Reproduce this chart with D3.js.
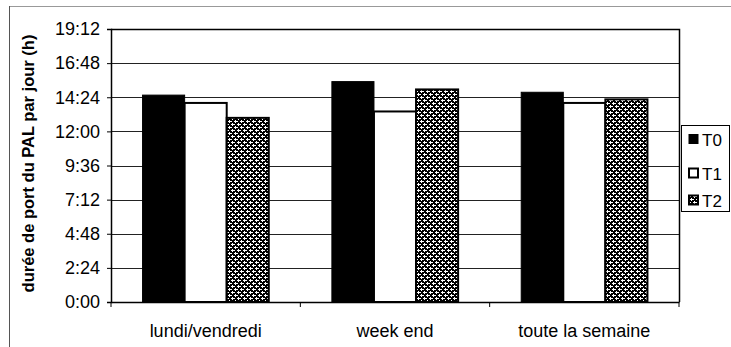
<!DOCTYPE html>
<html><head><meta charset="utf-8">
<script src="https://cdn.jsdelivr.net/npm/d3@7"></script>
<style>body{margin:0;background:#fff}svg{display:block;font-family:Arial,"Liberation Sans",sans-serif}</style>
</head><body><svg id="c" width="731" height="347"></svg>
<script>
const categories = ["lundi/vendredi", "week end", "toute la semaine"];
const seriesNames = ["T0", "T1", "T2"];
// durations in hours
const T0 = [14.55, 15.5, 14.75];
const T1 = [14.0, 13.4, 14.0];
const T2 = [12.95, 14.95, 14.25];
const yTicks = [0, 2.4, 4.8, 7.2, 9.6, 12, 14.4, 16.8, 19.2];
const yTitle = "durée de port du PAL par jour (h)";

const series = [T0, T1, T2];
const svg = d3.select("#c");
const m = {l: 111, t: 29, r: 679, b: 302};
const FONT = "Arial, 'Liberation Sans', sans-serif";

const defs = svg.append("defs");
const pat = defs.append("pattern").attr("id", "hatch").attr("patternUnits", "userSpaceOnUse").attr("width", 6).attr("height", 6);
pat.append("rect").attr("width", 6).attr("height", 6).attr("fill", "#000");
pat.append("path").attr("d", "M1,0h1v1h-1zM0,1h3v1h-3zM1,2h1v1h-1zM4,3h1v1h-1zM3,4h3v1h-3zM4,5h1v1h-1z").attr("fill", "#fff");
pat.append("path").attr("d", "M3,1h1v1h-1zM0,4h1v1h-1z").attr("fill", "#fff");

const fills = ["#000", "#fff", "url(#hatch)"];

const x0 = d3.scaleBand().domain(categories).range([m.l, m.r]).paddingInner(0).paddingOuter(0);
const x1 = d3.scaleBand().domain(seriesNames).range([0, x0.bandwidth()]).paddingOuter(0.75).paddingInner(0);
const y = d3.scaleLinear().domain([0, 19.2]).range([m.b, m.t]);

const fmt = v => { const tot = Math.round(v * 60); return Math.floor(tot / 60) + ":" + String(tot % 60).padStart(2, "0"); };

// outer frame lines
svg.append("line").attr("x1", 9).attr("x2", 731).attr("y1", 6.5).attr("y2", 6.5).attr("stroke", "#999").attr("stroke-width", 1);
svg.append("line").attr("x1", 9.5).attr("x2", 9.5).attr("y1", 6).attr("y2", 347).attr("stroke", "#555").attr("stroke-width", 1);

// gridlines
svg.append("g").selectAll("line").data(yTicks.slice(1)).join("line")
  .attr("x1", m.l).attr("x2", m.r)
  .attr("y1", d => Math.round(y(d)) + 0.5).attr("y2", d => Math.round(y(d)) + 0.5)
  .attr("stroke", "#222").attr("stroke-width", 1);

// bars
const g = svg.append("g");
categories.forEach((c, ci) => {
  seriesNames.forEach((s, si) => {
    const v = series[si][ci];
    g.append("rect")
      .attr("x", x0(c) + x1(s))
      .attr("y", y(v))
      .attr("width", x1.bandwidth())
      .attr("height", y(0) - y(v))
      .attr("fill", fills[si])
      .attr("stroke", "#000").attr("stroke-width", si === 0 ? 1 : 2);
  });
});

// plot frame top/right
svg.append("path").attr("d", `M${m.l},${m.t + 0.5}H${m.r + 0.5}V${m.b}`).attr("fill", "none").attr("stroke", "#000").attr("stroke-width", 1.5);

// y axis
const ya = svg.append("g").attr("transform", `translate(${m.l},0)`)
  .call(d3.axisLeft(y).tickValues(yTicks).tickFormat(fmt).tickSize(4).tickPadding(7));
ya.select(".domain").attr("stroke", "#000").attr("stroke-width", 1.5);
ya.selectAll(".tick line").attr("stroke", "#000");
ya.selectAll("text").attr("font-size", 18).attr("fill", "#000").attr("font-family", FONT);

// x axis
const xa = svg.append("g").attr("transform", `translate(0,${m.b})`)
  .call(d3.axisBottom(x0).tickValues([]).tickSizeOuter(0));
xa.select(".domain").attr("stroke", "#000").attr("stroke-width", 1.5);
const bounds = [m.l].concat(categories.map(c => x0(c) + x0.bandwidth()));
xa.selectAll(".bt").data(bounds).join("line").attr("class", "bt")
  .attr("x1", d => d).attr("x2", d => d).attr("y1", 0).attr("y2", 5).attr("stroke", "#000");
svg.append("g").selectAll("text").data(categories).join("text")
  .attr("x", d => x0(d) + x0.bandwidth() / 2).attr("y", 337)
  .attr("text-anchor", "middle").attr("font-size", 18).attr("fill", "#000").attr("font-family", FONT).text(d => d);

// y title
svg.append("text").attr("transform", `translate(34,${(m.t + m.b) / 2 - 2}) rotate(-90)`)
  .attr("text-anchor", "middle").attr("font-size", 16.5).attr("font-weight", "bold").attr("font-family", FONT).text(yTitle);

// legend
const lg = svg.append("g");
lg.append("rect").attr("x", 681.5).attr("y", 125.5).attr("width", 48).attr("height", 86).attr("fill", "#fff").attr("stroke", "#000").attr("stroke-width", 1);
const ly = [139, 173, 200];
seriesNames.forEach((s, i) => {
  lg.append("rect").attr("x", 689).attr("y", ly[i] - 4.5).attr("width", 9).attr("height", 9)
    .attr("fill", fills[i]).attr("stroke", "#000").attr("stroke-width", i === 0 ? 1 : 2);
  lg.append("text").attr("x", 702).attr("y", ly[i] + 6.5).attr("font-size", 17).attr("fill", "#000").attr("font-family", FONT).text(s);
});
</script></body></html>
